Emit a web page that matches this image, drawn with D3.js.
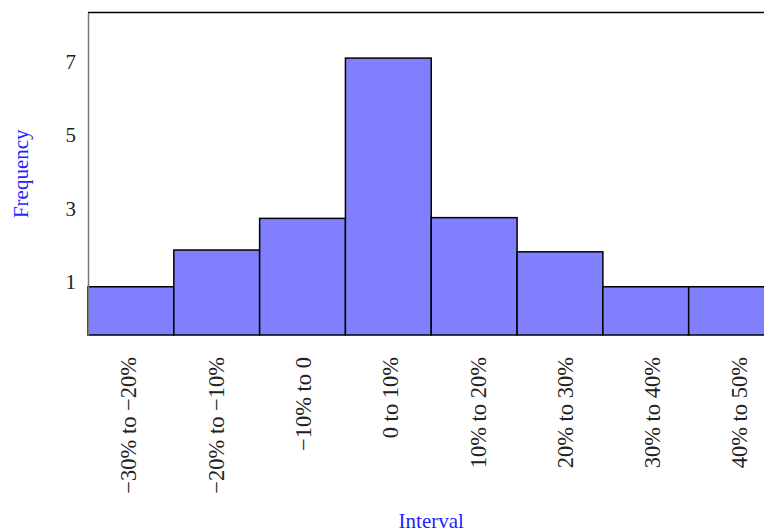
<!DOCTYPE html>
<html>
<head>
<meta charset="utf-8">
<script src="https://cdn.jsdelivr.net/npm/d3@7"></script>
<style>
html,body{margin:0;padding:0;background:#fff;overflow:hidden;}
svg{display:block;}
text{font-family:"Liberation Serif","DejaVu Serif",serif;}
</style>
</head>
<body>
<svg id="chart" width="764" height="532"></svg>
<script>
const categories = ["\u221230% to \u221220%","\u221220% to \u221210%","\u221210% to 0","0 to 10%","10% to 20%","20% to 30%","30% to 40%","40% to 50%"];
const frequencies = [0.87, 1.87, 2.73, 7.09, 2.75, 1.82, 0.87, 0.87];
const yTicks = [1, 3, 5, 7];
const xTitle = "Interval";
const yTitle = "Frequency";

const svg = d3.select("#chart");
const mLeft = 88, mTop = 12.5, mBottom = 335, mRight = 774.5;
const serif = '"Liberation Serif", "Times New Roman", serif';

const x = d3.scaleBand().domain(categories).range([mLeft, mRight]).padding(0);
const xLab = d3.scaleBand().domain(categories).range([84.85, 783.25]).padding(0);
const y = d3.scaleLinear().domain([-0.442, 8.33]).range([mBottom, mTop]);

// bars
svg.append("g").selectAll("rect").data(categories).join("rect")
  .attr("x", d => x(d))
  .attr("width", x.bandwidth())
  .attr("y", (d, i) => y(frequencies[i]))
  .attr("height", (d, i) => y.range()[0] - y(frequencies[i]))
  .attr("fill", "#8080ff")
  .attr("stroke", "#000")
  .attr("stroke-width", 1.5);

// frame line on top
svg.append("line").attr("x1", mLeft).attr("x2", mRight).attr("y1", mTop).attr("y2", mTop)
  .attr("stroke", "#000").attr("stroke-width", 1.5);

// y axis
const yAxis = d3.axisLeft(y).tickValues(yTicks).tickSize(0).tickPadding(12);
const gy = svg.append("g").attr("transform", `translate(${mLeft},0)`).call(yAxis);
gy.select(".domain").attr("stroke", "#777").attr("stroke-width", 1.5);
gy.selectAll("text").attr("font-size", 21).attr("fill", "#222")
  .style("font-family", serif);

// x axis labels
const xAxis = d3.axisBottom(xLab).tickSize(0).tickPadding(0);
const gx = svg.append("g").attr("transform", `translate(0,357)`).call(xAxis);
gx.select(".domain").remove();
gx.selectAll("text")
  .attr("font-size", 22.5).attr("fill", "#222")
  .style("font-family", serif)
  .attr("text-anchor", "end")
  .attr("x", 0).attr("y", 0).attr("dy", "0.35em")
  .attr("transform", "rotate(-90)");

// titles
svg.append("text").attr("x", (mLeft + mRight) / 2).attr("y", 528)
  .attr("text-anchor", "middle").attr("font-size", 21).attr("fill", "#1f1fff")
  .style("font-family", serif).text(xTitle);
svg.append("text").attr("transform", `translate(28,${(mTop + mBottom) / 2}) rotate(-90)`)
  .attr("text-anchor", "middle").attr("font-size", 21).attr("fill", "#1f1fff")
  .style("font-family", serif).text(yTitle);
</script>
</body>
</html>
